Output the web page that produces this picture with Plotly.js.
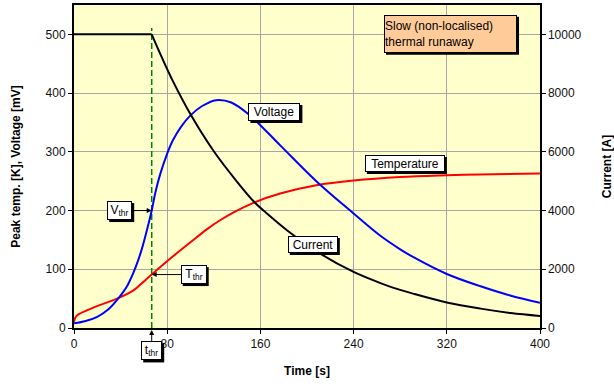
<!DOCTYPE html>
<html>
<head>
<meta charset="utf-8">
<script src="https://cdn.plot.ly/plotly-3.0.1.min.js"></script>
<style>html,body{margin:0;padding:0;background:#fff;}#chart{width:614px;height:384px;}</style>
</head>
<body>
<div id="chart"></div>
<script>
// ---- data ----
const tThr = 66.7;            // threshold time [s]
const vThr = 200;             // threshold voltage [mV]
const tempThr = 91;           // threshold temperature [K]

const voltageTime = [0, 10, 20, 29, 37, 46, 53, 58, 62, 66.7, 70, 74, 80, 85, 92, 100, 110, 122, 135, 151, 177, 208, 240, 263, 280, 291, 320, 349, 375, 400];
const voltage     = [8, 12, 19, 31, 48, 73, 104, 133, 162, 200, 232, 262, 297, 320, 343, 362, 378, 388, 384, 362, 311, 250, 195, 157, 134, 121, 92, 71, 55, 43];

const tempTime    = [0, 1, 3, 11, 22, 37, 51, 57, 66.7, 85, 100, 114, 125, 137, 155, 177, 208, 240, 280, 320, 360, 400];
const temperature = [10, 17, 22, 30, 39, 50, 64, 74, 91, 122, 146, 168, 183, 197, 214, 229, 243, 251, 257, 260, 262, 263];

const currentTime = [0, 66.7, 75, 85, 100, 120, 140, 155, 165, 185, 211, 240, 263, 280, 291, 320, 349, 375, 400];
const current     = [10000, 10000, 9250, 8400, 7280, 6020, 4980, 4280, 3920, 3260, 2540, 1908, 1530, 1300, 1170, 870, 660, 510, 409];

const xTicks  = [0, 80, 160, 240, 320, 400];
const yTicks  = [0, 100, 200, 300, 400, 500];
const y2Ticks = [0, 2000, 4000, 6000, 8000, 10000];

const FONT = 'Liberation Sans, Arial, sans-serif';

// flat part of the current (before t_thr) and its decay, both sliced from the same arrays
const flatEnd = currentTime.indexOf(tThr) + 1;

const traces = [
  {x: [tThr, tThr], y: [0, 511], mode: 'lines', yaxis: 'y',
   line: {color: '#008000', width: 1.5, dash: '6px,3px'}, hoverinfo: 'skip'},
  {x: tempTime, y: temperature, mode: 'lines', name: 'Temperature',
   line: {color: '#FF0000', width: 2, shape: 'spline', smoothing: 1}},
  {x: voltageTime, y: voltage, mode: 'lines', name: 'Voltage',
   line: {color: '#0000FF', width: 2, shape: 'spline', smoothing: 1}},
  {x: currentTime.slice(0, flatEnd), y: current.slice(0, flatEnd), mode: 'lines', name: 'Current', yaxis: 'y2',
   line: {color: '#000000', width: 2}},
  {x: currentTime.slice(flatEnd - 1), y: current.slice(flatEnd - 1), mode: 'lines', name: 'Current', yaxis: 'y2',
   line: {color: '#000000', width: 2, shape: 'spline', smoothing: 1}}
];

const annotations = [];
const shapes = [];

// label box with a 2px drop shadow (shadow drawn as a pixel-sized shape)
function label(text, x, y, w, h, opts) {
  opts = opts || {};
  const xref = opts.xref || 'x', yref = opts.yref || 'y';
  const ax = opts.ax || 0, ay = opts.ay || 0;
  const a = {
    text: text, x: x, y: y, xref: xref, yref: yref,
    xanchor: 'center', yanchor: 'middle',
    font: {family: FONT, size: 12, color: '#000'},
    bgcolor: opts.bgcolor || '#FFFFFF', bordercolor: '#000', borderwidth: 1, borderpad: 0,
    width: w - 2, height: h - 2, align: opts.align || 'center', valign: 'middle'
  };
  if (opts.arrow) {
    Object.assign(a, {showarrow: true, ax: ax, ay: ay, arrowhead: 2, arrowsize: 1,
      arrowwidth: 1, arrowcolor: '#000', standoff: 0});
  } else {
    a.showarrow = false;
  }
  annotations.push(a);
  const cx = ax, cy = -ay; // box centre offset from anchor in pixels (y up)
  shapes.push({
    type: 'rect', xref: xref, yref: yref, xsizemode: 'pixel', ysizemode: 'pixel',
    xanchor: x, yanchor: y,
    x0: cx - w / 2 + 2, x1: cx + w / 2 + 2, y0: cy - h / 2 - 2, y1: cy + h / 2 - 2,
    fillcolor: '#000', line: {width: 0}, layer: 'above'
  });
}

label('Voltage', 172, 368, 52, 18);
label('Temperature', 284, 280, 80, 17);
label('Current', 205, 142, 50, 17);
label('V<sub>thr</sub>', tThr, vThr, 25, 19, {arrow: true, ax: -32, ay: 0});
label('T<sub>thr</sub>', tThr, tempThr, 26, 19, {arrow: true, ax: 42, ay: 0});
label('t<sub>thr</sub>', tThr, -0.006, 21, 19, {yref: 'paper', arrow: true, ax: 0, ay: 21});
label('Slow (non-localised)<br>thermal runaway', 0.808, 0.911, 133, 38,
      {xref: 'paper', yref: 'paper', bgcolor: '#FFCC99', align: 'left'});

const axisCommon = {
  showline: true, linecolor: '#000', linewidth: 2,
  ticks: 'outside', ticklen: 4, tickcolor: '#000', tickwidth: 1,
  tickfont: {family: FONT, size: 12, color: '#111'},
  zeroline: false
};

const layout = {
  width: 614, height: 384,
  margin: {l: 74, r: 74, t: 5, b: 56, pad: 0},
  paper_bgcolor: '#FFFFFF', plot_bgcolor: '#FFFFCC',
  showlegend: false,
  font: {family: FONT, size: 12, color: '#000'},
  xaxis: Object.assign({}, axisCommon, {
    range: [0, 400], tickvals: xTicks, mirror: true,
    showgrid: true, gridcolor: '#A6A6A6', gridwidth: 1,
    title: {text: 'Time [s]', standoff: 16, font: {family: FONT, size: 12, weight: 'bold', color: '#000'}}
  }),
  yaxis: Object.assign({}, axisCommon, {
    range: [0, 550], tickvals: yTicks,
    showgrid: true, gridcolor: '#A6A6A6', gridwidth: 1,
    title: {text: 'Peak temp. [K], Voltage [mV]', standoff: 22, font: {family: FONT, size: 12, weight: 'bold', color: '#000'}}
  }),
  yaxis2: Object.assign({}, axisCommon, {
    range: [0, 11000], tickvals: y2Ticks, tickformat: 'd', overlaying: 'y', side: 'right',
    showgrid: false, linewidth: 1.5,
    title: {text: 'Current [A]', standoff: 24, font: {family: FONT, size: 12, weight: 'bold', color: '#000'}}
  }),
  shapes: shapes,
  annotations: annotations
};

Plotly.newPlot('chart', traces, layout, {staticPlot: true, displayModeBar: false});
</script>
</body>
</html>
